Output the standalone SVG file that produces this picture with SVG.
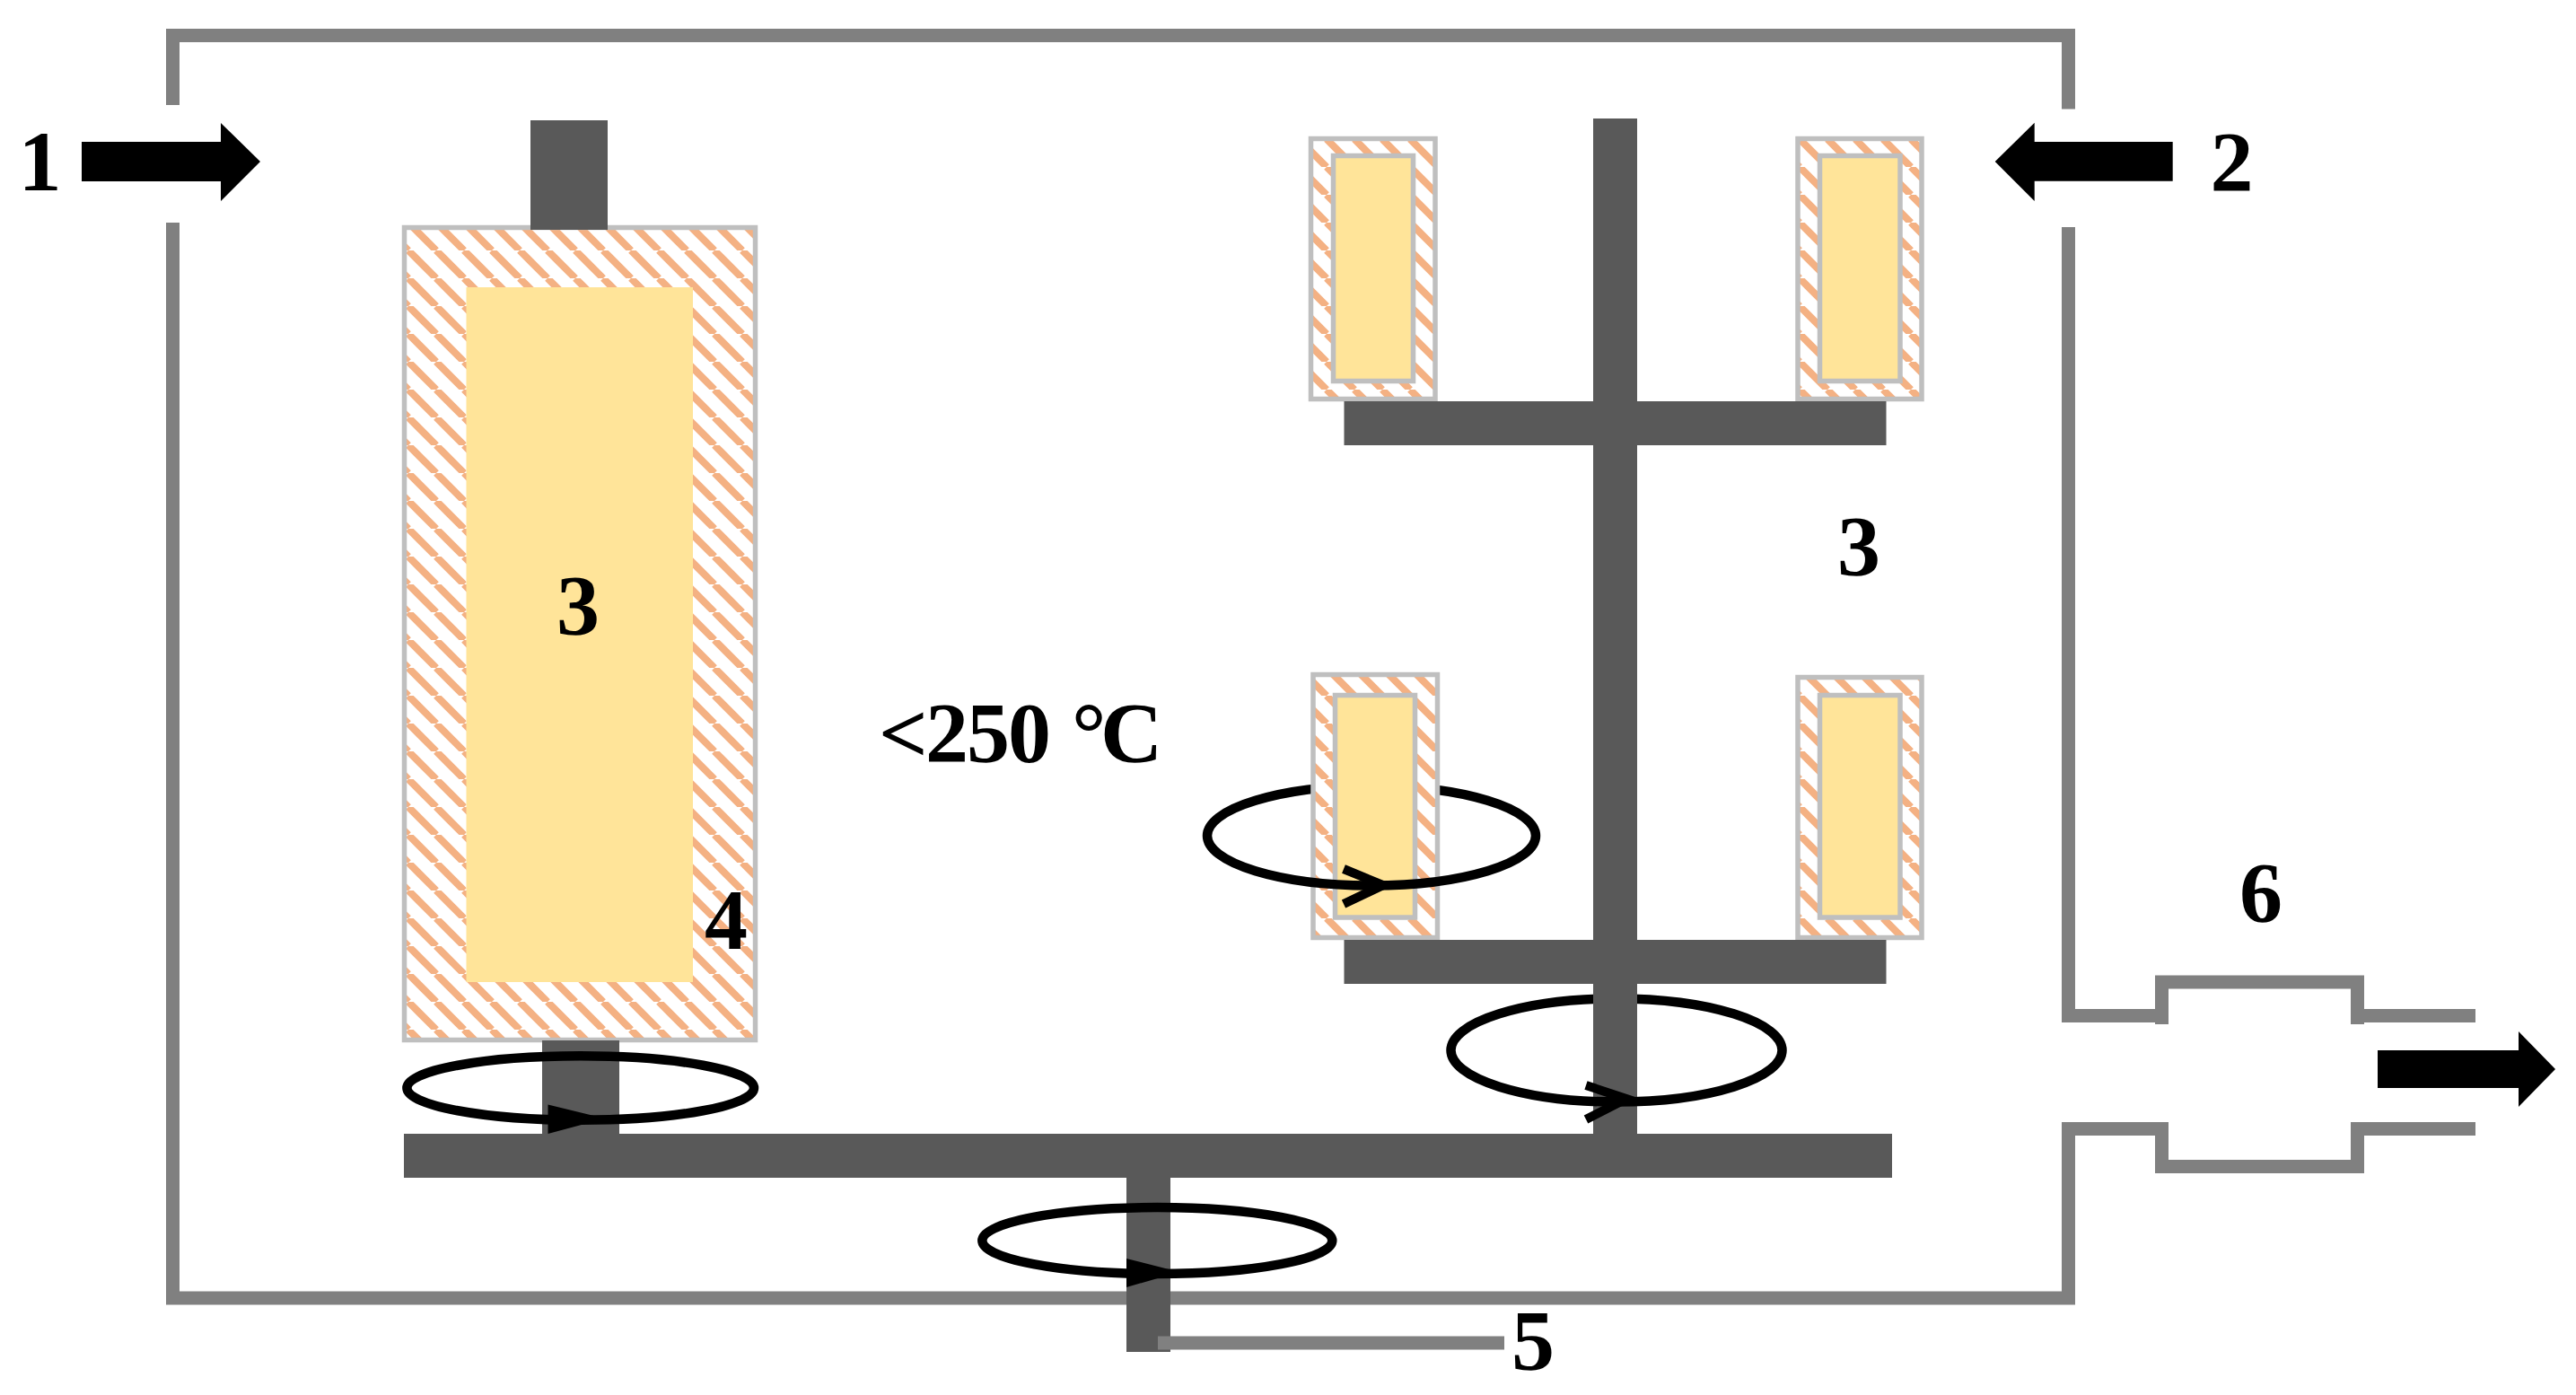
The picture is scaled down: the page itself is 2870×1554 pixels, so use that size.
<svg xmlns="http://www.w3.org/2000/svg" width="2870" height="1554" viewBox="0 0 2870 1554">
<style>
.wall{fill:none;stroke:#808080;stroke-width:15;stroke-linejoin:miter}
.steel{fill:#595959}
.coat{fill:url(#hatch);stroke:#bfbfbf;stroke-width:5.500}
.core{fill:#ffe499;stroke:#bfbfbf;stroke-width:5.500}
.flow{fill:#000}
.spin{fill:none;stroke:#000;stroke-width:10.500}
.head{fill:none;stroke:#000;stroke-width:10;stroke-linejoin:miter}
.lbl{font-family:"Liberation Serif",serif;font-weight:700;font-size:96px;fill:#000}
</style>
<defs>
<pattern id="hatch" patternUnits="userSpaceOnUse" width="31" height="31">
<rect width="31" height="31" fill="#fff"/>
<path d="M-10 0L21 31M21 0L52 31" stroke="#f4b183" stroke-width="8" fill="none"/>
</pattern>
</defs>
<rect width="2870" height="1554" fill="#fff"/>
<g id="chamber">
<path class="wall" d="M192.500 117V39.500H2304.500V121.500"/>
<path class="wall" d="M192.500 248V1446H2304.500V1257.500H2408.500"/>
<path class="wall" d="M2304.500 253V1131.500H2408.500"/>
<path class="wall" d="M2408.500 1141V1094H2626.500V1141"/>
<path class="wall" d="M2408.500 1250V1299.500H2626.500V1250"/>
<path class="wall" d="M2634 1131.500H2758"/>
<path class="wall" d="M2634 1257.500H2758"/>
</g>
<g id="rotation-back">
<path class="spin" d="M1345 931A183 55.500 0 0 1 1711 931"/>
<path class="spin" d="M1616.500 1170A184.500 57.500 0 0 1 1985.500 1170"/>
</g>
<g id="drum-large">
<rect class="coat" x="450.500" y="253.500" width="391" height="905"/>
<rect x="519.500" y="320" width="252.500" height="774" fill="#ffe499"/>
</g>
<g id="sample-top-left">
<rect class="coat" x="1460.500" y="154.500" width="138.500" height="290"/>
<rect class="core" x="1485.500" y="173.500" width="89" height="251"/>
</g>
<g id="sample-top-right">
<rect class="coat" x="2003" y="154.500" width="138" height="290"/>
<rect class="core" x="2027.500" y="173.500" width="89.500" height="251"/>
</g>
<g id="sample-bottom-left">
<rect class="coat" x="1463" y="751.500" width="138.500" height="293"/>
<rect class="core" x="1487.500" y="774.500" width="89" height="247.500"/>
</g>
<g id="sample-bottom-right">
<rect class="coat" x="2003" y="754.500" width="138" height="290"/>
<rect class="core" x="2027.500" y="774.500" width="89.500" height="247.500"/>
</g>
<g id="frame">
<rect class="steel" x="591" y="134" width="86" height="122"/>
<rect class="steel" x="604" y="1159" width="86" height="104"/>
<rect class="steel" x="1775" y="132" width="49" height="1131"/>
<rect class="steel" x="1497.500" y="447" width="604" height="49"/>
<rect class="steel" x="1497.500" y="1047" width="604" height="49"/>
<rect class="steel" x="450" y="1263" width="1658" height="49"/>
<rect class="steel" x="1255" y="1312" width="49" height="194"/>
</g>
<g id="connectors">
<path class="flow" d="M91 158H246V137L290 180L246 224V202H91Z"/>
<path class="flow" d="M2420.700 158H2266.700V136.700L2222.700 180L2266.700 224V201.700H2420.700Z"/>
<path class="flow" d="M2649 1170H2806V1149L2847 1191L2806 1233V1212H2649Z"/>
<ellipse class="spin" cx="646.700" cy="1212" rx="193.300" ry="35.700"/>
<path class="flow" d="M610.500 1230.500L674 1246L610.500 1263Z"/>
<path class="spin" d="M1345 931A183 55.500 0 0 0 1711 931"/>
<path class="head" d="M1497 968L1541 986L1497 1007"/>
<path class="spin" d="M1616.500 1170A184.500 57.500 0 0 0 1985.500 1170"/>
<path class="head" d="M1767 1209L1812 1224L1767 1247"/>
<ellipse class="spin" cx="1289.300" cy="1382" rx="195" ry="37"/>
<path class="flow" d="M1255 1402L1314 1417L1255 1434Z"/>
</g>
<g id="probe">
<rect x="1290" y="1488.500" width="386" height="15" fill="#808080"/>
</g>
<g id="labels">
<text class="lbl" x="44.500" y="212" text-anchor="middle">1</text>
<text class="lbl" x="2486.500" y="213" text-anchor="middle">2</text>
<text class="lbl" x="644" y="707" text-anchor="middle">3</text>
<text class="lbl" x="2071" y="641" text-anchor="middle">3</text>
<text class="lbl" x="809" y="1057" text-anchor="middle">4</text>
<text class="lbl" x="979 1031 1077 1123 1170 1194 1226" y="849">&lt;250 °C</text>
<text class="lbl" x="1708" y="1526" text-anchor="middle">5</text>
<text class="lbl" x="2519" y="1027" text-anchor="middle">6</text>
</g>
</svg>
